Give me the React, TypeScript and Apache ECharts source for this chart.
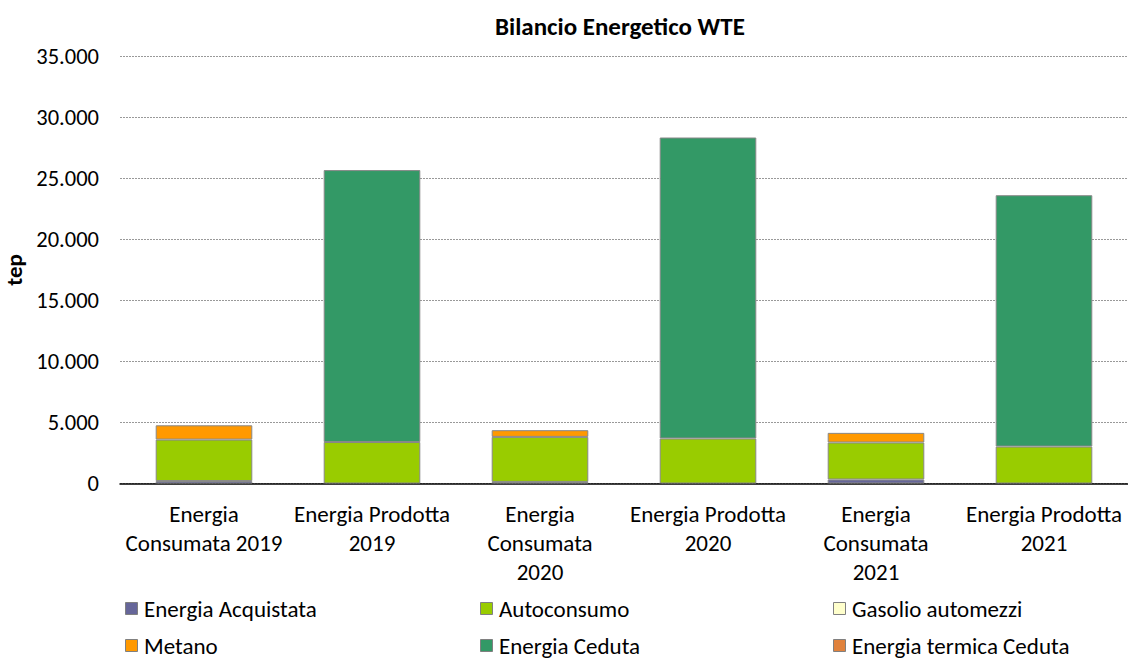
import React, { useEffect, useRef } from "react";
import * as echarts from "echarts";

const categories = [
  "Energia\nConsumata 2019",
  "Energia Prodotta\n2019",
  "Energia\nConsumata\n2020",
  "Energia Prodotta\n2020",
  "Energia\nConsumata\n2021",
  "Energia Prodotta\n2021",
];
const energiaAcquistata = [200, 0, 130, 0, 330, 0];
const autoconsumo = [3400, 3400, 3690, 3690, 3030, 3030];
const gasolioAutomezzi = [0, 0, 0, 0, 0, 0];
const metano = [1170, 0, 550, 0, 790, 0];
const energiaCeduta = [0, 22290, 0, 24670, 0, 20600];
const energiaTermicaCeduta = [0, 0, 0, 0, 0, 0];
const yTicks = [0, 5000, 10000, 15000, 20000, 25000, 30000, 35000];

const seriesDefs = [
  { name: "Energia Acquistata", data: energiaAcquistata, color: "#666699" },
  { name: "Autoconsumo", data: autoconsumo, color: "#99CC00" },
  { name: "Gasolio automezzi", data: gasolioAutomezzi, color: "#FFFFCC" },
  { name: "Metano", data: metano, color: "#FF9900" },
  { name: "Energia Ceduta", data: energiaCeduta, color: "#339966" },
  { name: "Energia termica Ceduta", data: energiaTermicaCeduta, color: "#E0823D" },
];

const legendPos = [
  { left: 125, top: 597 },
  { left: 480, top: 597 },
  { left: 833, top: 597 },
  { left: 125, top: 634 },
  { left: 480, top: 634 },
  { left: 833, top: 634 },
];

const FONT = "Carlito, Lato, sans-serif";

function fmt(v: number) {
  return String(v).replace(/\B(?=(\d{3})+(?!\d))/g, ".");
}

export default function App() {
  const ref = useRef<HTMLDivElement>(null);
  useEffect(() => {
    if (!ref.current) return;
    const chart = echarts.init(ref.current, undefined, { renderer: "svg" });
    chart.setOption({
      animation: false,
      backgroundColor: "#ffffff",
      textStyle: { fontFamily: FONT },
      title: {
        text: "Bilancio Energetico WTE",
        left: 490,
        top: 9,
        textStyle: { fontFamily: FONT, fontSize: 25, fontWeight: "bold", color: "#000" },
      },
      legend: seriesDefs.map((s, i) => ({
        data: [s.name],
        left: legendPos[i].left,
        top: legendPos[i].top,
        icon: "rect",
        itemWidth: 12,
        itemHeight: 12,
        itemGap: 0,
        padding: 0,
        selectedMode: false,
        itemStyle: { borderColor: "#808080", borderWidth: 1 },
        textStyle: {
          fontFamily: FONT,
          fontSize: 23,
          lineHeight: 22,
          color: "#000",
          padding: [0, 0, 0, 1.5],
        },
      })),
      grid: {
        left: 120,
        right: 0,
        top: 56.5,
        bottom: 174.5,
        containLabel: false,
        outerBoundsMode: "none",
      },
      xAxis: {
        type: "category",
        data: categories,
        axisLine: { lineStyle: { color: "#000", width: 1.5 } },
        axisTick: { show: false },
        axisLabel: {
          interval: 0,
          fontFamily: FONT,
          fontSize: 23,
          color: "#000",
          lineHeight: 29,
          margin: 16,
        },
      },
      yAxis: {
        type: "value",
        min: 0,
        max: 35000,
        interval: 5000,
        name: "tep",
        nameLocation: "middle",
        nameGap: 92,
        nameRotate: 90,
        nameTextStyle: { fontFamily: FONT, fontSize: 23, fontWeight: "bold", color: "#000" },
        axisLine: { show: false },
        axisTick: { show: false },
        axisLabel: {
          fontFamily: FONT,
          fontSize: 22.5,
          color: "#000",
          margin: 21,
          formatter: (v: number) => (yTicks.includes(v) ? fmt(v) : ""),
        },
        splitLine: { lineStyle: { color: "#999", width: 1, type: [2, 1] } },
      },
      series: seriesDefs.map((s) => ({
        name: s.name,
        type: "bar",
        stack: "tot",
        barWidth: "57.5%",
        data: s.data.map((v) => (v === 0 ? "-" : v)),
        itemStyle: { color: s.color, borderColor: "#888", borderWidth: 1 },
      })),
    });
    return () => chart.dispose();
  }, []);
  return (
    <div
      ref={ref}
      style={{ position: "absolute", left: 0, top: 0, width: 1128, height: 658 }}
    />
  );
}
